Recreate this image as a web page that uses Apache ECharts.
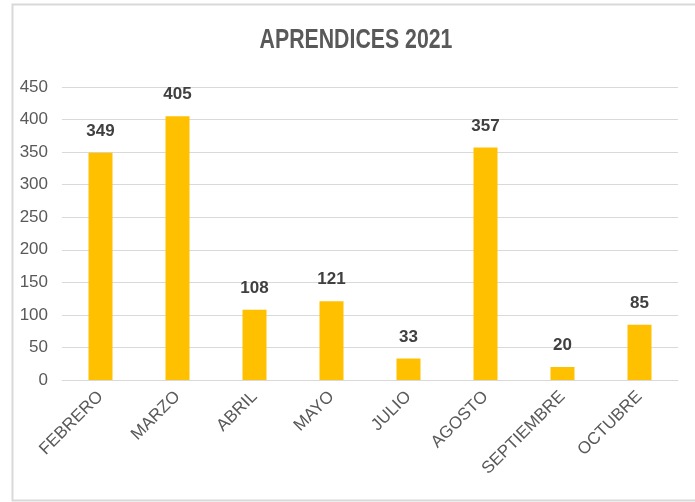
<!DOCTYPE html>
<html>
<head>
<meta charset="utf-8">
<script src="https://cdn.jsdelivr.net/npm/echarts@6/dist/echarts.min.js"></script>
<style>
  html, body { margin: 0; padding: 0; background: #fff; }
  #chart { width: 695px; height: 502px; }
</style>
</head>
<body>
<div id="chart"></div>
<script>
// datos del grafico
var meses = ['FEBRERO', 'MARZO', 'ABRIL', 'MAYO', 'JULIO', 'AGOSTO', 'SEPTIEMBRE', 'OCTUBRE'];
var aprendices = [349, 405, 108, 121, 33, 357, 20, 85];
var yTicks = [0, 50, 100, 150, 200, 250, 300, 350, 400, 450];

var fuente = '"Liberation Sans Narrow", "Arial Narrow", "Liberation Sans", sans-serif';

var chart = echarts.init(document.getElementById('chart'));
chart.setOption({
  animation: false,
  graphic: [{
    // marco del grafico, el borde derecho queda fuera de la imagen
    type: 'rect',
    shape: { x: 12.5, y: 4.5, width: 700, height: 496 },
    style: { fill: 'none', stroke: '#d9d9d9', lineWidth: 2 },
    silent: true
  }, {
    // titulo, angostado para parecerse a Arial Narrow
    type: 'text',
    x: 356,
    y: 40,
    scaleX: 0.76,
    silent: true,
    style: {
      text: 'APRENDICES 2021',
      font: 'bold 28px "Liberation Sans", sans-serif',
      fill: '#595959',
      textAlign: 'center',
      textVerticalAlign: 'middle'
    }
  }],
  grid: {
    left: 62,
    right: 17,
    top: 87,
    bottom: 122
  },
  xAxis: {
    type: 'category',
    data: meses,
    axisTick: { show: false },
    axisLine: { lineStyle: { color: '#d9d9d9', width: 1 } },
    axisLabel: {
      rotate: 45,
      interval: 0,
      margin: 14,
      fontFamily: fuente,
      fontSize: 17,
      color: '#595959'
    }
  },
  yAxis: {
    type: 'value',
    min: yTicks[0],
    max: yTicks[yTicks.length - 1],
    interval: 50,
    axisLine: { show: false },
    axisTick: { show: false },
    splitLine: { lineStyle: { color: '#d9d9d9', width: 1 } },
    axisLabel: {
      margin: 14,
      fontFamily: fuente,
      fontSize: 17,
      color: '#595959'
    }
  },
  series: [{
    type: 'bar',
    data: aprendices,
    barWidth: 24,
    itemStyle: { color: '#FFC000' },
    label: {
      show: true,
      position: 'top',
      distance: 13,
      fontFamily: fuente,
      fontSize: 17,
      fontWeight: 'bold',
      color: '#404040'
    }
  }]
});
</script>
</body>
</html>
